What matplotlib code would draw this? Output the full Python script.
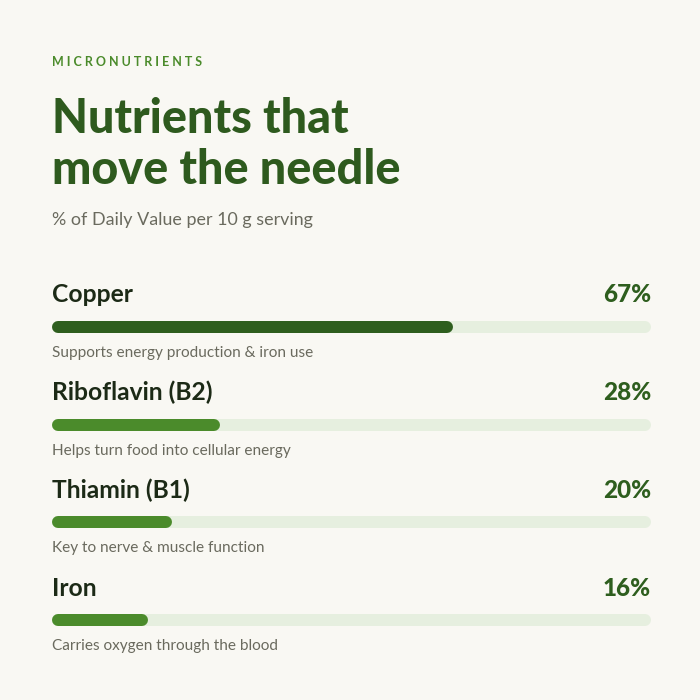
import matplotlib.pyplot as plt

nutrients = ['Copper', 'Riboflavin (B2)', 'Thiamin (B1)', 'Iron']
pct = [67, 28, 20, 16]
notes = ['Supports energy production & iron use',
         'Helps turn food into cellular energy',
         'Key to nerve & muscle function',
         'Carries oxygen through the blood']
colors = ['#2e5e1e', '#4b8b2b', '#4b8b2b', '#4b8b2b']

BG = '#f9f8f3'
W = H = 700

fig = plt.figure(figsize=(7, 7), dpi=100, facecolor=BG)
plt.rcParams['font.family'] = ['Lato', 'DejaVu Sans']

fig.text(52 / W, 1 - 62 / H, 'M I C R O N U T R I E N T S', fontsize=9, color='#4b8b2b',
         fontweight='bold', va='center', ha='left')
fig.text(52 / W, 1 - 133 / H, 'Nutrients that', fontsize=33.7,
         color='#2e5a1e', fontweight='black', va='baseline', ha='left')
fig.text(52 / W, 1 - 184 / H, 'move the needle', fontsize=33.7,
         color='#2e5a1e', fontweight='black', va='baseline', ha='left')
fig.text(52 / W, 1 - 220 / H, '% of Daily Value per 10 g serving', fontsize=12.9,
         color='#6a6a5e', va='center', ha='left')

# bar rows: index 0..3, centres at 327 .. 620 px
s = (620 - 327) / 3
top = 327 - s / 2
bot = 620 + s / 2
ax = fig.add_axes([52 / W, 1 - bot / H, 599 / W, (bot - top) / H])
ax.set_xlim(0, 100)
ax.set_ylim(3.5, -0.5)
ax.axis('off')

lw = 12 * 72 / 100
cap = 6 / 599 * 100
for i, (n, v, d, c) in enumerate(zip(nutrients, pct, notes, colors)):
    ax.plot([cap, 100 - cap], [i, i], color='#e6efdf', lw=lw, solid_capstyle='round')
    ax.plot([cap, v - cap], [i, i], color=c, lw=lw, solid_capstyle='round')
    ax.text(0, i - 24.5 / s, n, fontsize=17.7, fontweight='bold', color='#1c2a16',
            va='baseline', ha='left')
    ax.text(100, i - 24.5 / s, f'{v}%', fontsize=17.5, fontweight='black', color='#2e5e1e',
            va='baseline', ha='right')
    ax.text(0, i + 30 / s, d, fontsize=11.1, color='#6a6a5e', va='baseline', ha='left')

fig.savefig('out.png', dpi=100, facecolor=BG)
